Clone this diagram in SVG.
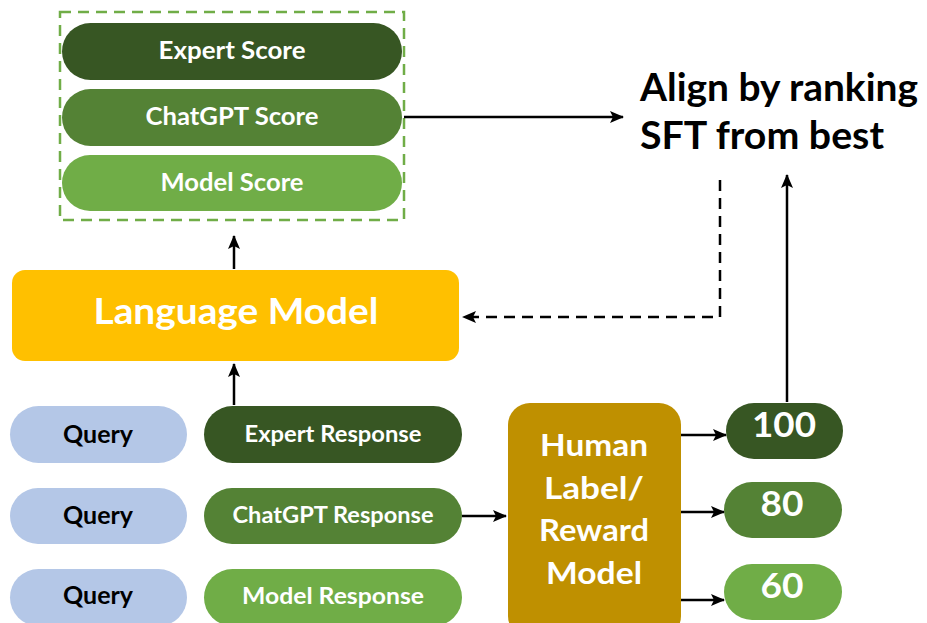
<svg xmlns="http://www.w3.org/2000/svg" width="927" height="623" viewBox="0 0 927 623">
<style>
.t{font-family:Lato,"Open Sans","Liberation Sans",sans-serif;font-weight:700;text-anchor:middle;fill:#ffffff}
.k{fill:#000000}
.c{fill:none;stroke:#000000;stroke-width:2.5}
.d1{fill:#375623}
.d2{fill:#548235}
.d3{fill:#70AD47}
.q{fill:#B4C7E7}
</style>
<defs>
<marker id="ah" markerUnits="userSpaceOnUse" markerWidth="14" markerHeight="12" refX="13" refY="6" orient="auto">
<path d="M0,0 L14,6 L0,12 L3,6 Z" fill="#000"/>
</marker>
</defs>
<rect width="927" height="623" fill="#ffffff"/>

<g id="scores">
<rect x="60" y="12" width="344" height="208" fill="none" stroke="#70AD47" stroke-width="2.5" stroke-dasharray="11,7"/>
<g id="expert-score"><rect class="d1" x="62" y="23" width="340" height="57" rx="28.5"/><text class="t" x="232" y="59" font-size="25" textLength="147" lengthAdjust="spacingAndGlyphs">Expert Score</text></g>
<g id="chatgpt-score"><rect class="d2" x="62" y="89" width="340" height="57" rx="28.5"/><text class="t" x="232" y="125" font-size="25" textLength="173" lengthAdjust="spacingAndGlyphs">ChatGPT Score</text></g>
<g id="model-score"><rect class="d3" x="62" y="155" width="340" height="56" rx="28"/><text class="t" x="232" y="191" font-size="25" textLength="143" lengthAdjust="spacingAndGlyphs">Model Score</text></g>
</g>

<g id="align">
<text class="t k" x="779" y="101" font-size="39" textLength="278" lengthAdjust="spacingAndGlyphs">Align by ranking</text>
<text class="t k" x="762" y="149" font-size="39" textLength="244" lengthAdjust="spacingAndGlyphs">SFT from best</text>
</g>

<g id="language-model">
<rect x="12" y="270" width="447" height="91" rx="13" fill="#FFC000"/>
<text class="t" x="236" y="324" font-size="36" textLength="285" lengthAdjust="spacingAndGlyphs">Language Model</text>
</g>

<g id="query1"><rect class="q" x="10" y="406" width="177" height="57" rx="28.5"/><text class="t k" x="98" y="443" font-size="25" textLength="70" lengthAdjust="spacingAndGlyphs">Query</text></g>
<g id="query2"><rect class="q" x="10" y="488" width="177" height="56" rx="28"/><text class="t k" x="98" y="524" font-size="25" textLength="70" lengthAdjust="spacingAndGlyphs">Query</text></g>
<g id="query3"><rect class="q" x="10" y="569" width="177" height="57" rx="28.5"/><text class="t k" x="98" y="604" font-size="25" textLength="70" lengthAdjust="spacingAndGlyphs">Query</text></g>

<g id="expert-response"><rect class="d1" x="204" y="406" width="258" height="57" rx="28.5"/><text class="t" x="333" y="442" font-size="23" textLength="177" lengthAdjust="spacingAndGlyphs">Expert Response</text></g>
<g id="chatgpt-response"><rect class="d2" x="204" y="488" width="258" height="56" rx="28"/><text class="t" x="333" y="523" font-size="23" textLength="201" lengthAdjust="spacingAndGlyphs">ChatGPT Response</text></g>
<g id="model-response"><rect class="d3" x="204" y="569" width="258" height="57" rx="28.5"/><text class="t" x="333" y="604" font-size="23" textLength="182" lengthAdjust="spacingAndGlyphs">Model Response</text></g>

<g id="human-label">
<rect x="508" y="403" width="173" height="235" rx="22" fill="#BF9000"/>
<text class="t" x="594" y="456" font-size="31" textLength="108" lengthAdjust="spacingAndGlyphs">Human</text>
<text class="t" x="594" y="499" font-size="31" textLength="100" lengthAdjust="spacingAndGlyphs">Label/</text>
<text class="t" x="594" y="541" font-size="31" textLength="110" lengthAdjust="spacingAndGlyphs">Reward</text>
<text class="t" x="594" y="584" font-size="31" textLength="96" lengthAdjust="spacingAndGlyphs">Model</text>
</g>

<g id="score100"><rect class="d1" x="726" y="403" width="117" height="56" rx="28"/><text class="t" x="784" y="437" font-size="35" textLength="64" lengthAdjust="spacingAndGlyphs">100</text></g>
<g id="score80"><rect class="d2" x="724" y="482" width="118" height="56" rx="28"/><text class="t" x="782" y="516" font-size="35" textLength="43" lengthAdjust="spacingAndGlyphs">80</text></g>
<g id="score60"><rect class="d3" x="724" y="564" width="118" height="56" rx="28"/><text class="t" x="782" y="598" font-size="35" textLength="43" lengthAdjust="spacingAndGlyphs">60</text></g>

<g id="connectors">
<line class="c" x1="404" y1="117" x2="623" y2="117" marker-end="url(#ah)"/>
<line class="c" x1="234" y1="269" x2="234" y2="236" marker-end="url(#ah)"/>
<line class="c" x1="234" y1="405" x2="234" y2="364" marker-end="url(#ah)"/>
<polyline class="c" points="720,180 720,317 463,317" stroke-dasharray="11,7" marker-end="url(#ah)"/>
<line class="c" x1="787" y1="402" x2="787" y2="175" marker-end="url(#ah)"/>
<line class="c" x1="462" y1="516" x2="506" y2="516" marker-end="url(#ah)"/>
<line class="c" x1="681" y1="435" x2="726" y2="435" marker-end="url(#ah)"/>
<line class="c" x1="681" y1="512" x2="724" y2="512" marker-end="url(#ah)"/>
<line class="c" x1="681" y1="600" x2="724" y2="600" marker-end="url(#ah)"/>
</g>
</svg>
